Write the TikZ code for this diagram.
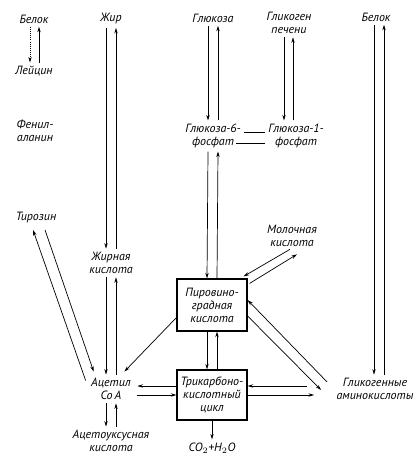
\documentclass[tikz,border=0pt]{standalone}
\usepackage{fontspec}
\setmainfont{PT Sans}
\usetikzlibrary{arrows.meta,calc}
\tikzset{lbl/.style={font=\fontsize{8.5}{9.3}\selectfont\itshape,align=center,inner sep=1pt,outer sep=1.5pt},box/.style={draw,line width=0.8pt,align=center,minimum width=1.75cm,inner sep=1pt,font=\fontsize{8.5}{9.3}\selectfont\itshape},arrow/.style={-{Stealth[length=4pt,width=2.4pt]},line width=0.5pt},line/.style={line width=0.5pt}}

\begin{document}
\begin{tikzpicture}[x=0.025cm,y=-0.025cm]
\useasboundingbox (0,0) rectangle (415,464);
% left column
\node[lbl] (belokl) at (34,19) {Белок};
\node[lbl] (leucin) at (34,71) {Лейцин};
\node[lbl] (phenyl) at (35,131) {Фенил-\\аланин};
\node[lbl] (tyrosin) at (36,218) {Тирозин};
% fat column
\node[lbl] (zhir) at (111,19) {Жир};
\node[lbl] (fatacid) at (111,263) {Жирная\\кислота};
\node[lbl] (acetyl) at (111,389) {Ацетил\\Co\,A};
\node[lbl] (acetoac) at (111,441) {Ацетоуксусная\\кислота};
% carbohydrates
\node[lbl] (glucose) at (213,18) {Глюкоза};
\node[lbl] (glycogen) at (289,23) {Гликоген\\печени};
\node[lbl] (g6p) at (213,136) {Глюкоза-6-\\фосфат};
\node[lbl] (g1p) at (296,136) {Глюкоза-1-\\фосфат};
\node[lbl] (lactic) at (292,236) {Молочная\\кислота};
\node[box,minimum height=1.3cm] (pyruv) at (212,305) {Пировино-\\градная\\кислота};
\node[box,minimum height=1.25cm] (tca) at (212,395) {Трикарбоно-\\кислотный\\цикл};
\node[lbl] (co2) at (212,448) {CO$_2$+H$_2$O};
% right column
\node[lbl] (belokr) at (376,17) {Белок};
\node[lbl] (glucaa) at (375,389) {Гликогенные\\аминокислоты};

\draw[arrow,densely dotted] ($(belokl.south)+(-4,0)$) -- ($(leucin.north)+(-4,0)$);
\draw[arrow] ($(leucin.north)+(5,0)$) -- ($(belokl.south)+(5,0)$);
\draw[arrow] ($(tyrosin.south)+(9,3)$) -- ($(acetyl.north west)+(6,-3)$);
\draw[arrow] ($(acetyl.north west)+(-2,6)$) -- ($(tyrosin.south)+(-3,3)$);

\draw[arrow] ($(zhir.south)+(-5,0)$) -- ($(fatacid.north)+(-5,0)$);
\draw[arrow] ($(fatacid.north)+(5,0)$) -- ($(zhir.south)+(5,0)$);
\draw[arrow] ($(fatacid.south)+(-5,0)$) -- ($(acetyl.north)+(-5,0)$);
\draw[arrow] ($(acetyl.north)+(5,0)$) -- ($(fatacid.south)+(5,0)$);
\draw[arrow] ($(acetyl.south)+(-5,0)$) -- ($(acetoac.north)+(-5,0)$);
\draw[arrow] ($(acetoac.north)+(5,0)$) -- ($(acetyl.south)+(5,0)$);

\draw[arrow] ($(glucose.south)+(-5,0)$) -- ($(g6p.north)+(-5,0)$);
\draw[arrow] ($(g6p.north)+(5,0)$) -- ($(glucose.south)+(5,0)$);
\draw[arrow] ($(glycogen.south)+(-5,0)$) -- ($(g1p.north)+(-12,0)$);
\draw[arrow] ($(g1p.north)+(-3,0)$) -- ($(glycogen.south)+(4,0)$);
\draw[line] ($(g6p.east)+(0,-4)$) -- ($(g1p.west)+(0,-4)$);
\draw[line] ($(g6p.east)+(-8,7)$) -- ($(g1p.west)+(0,7)$);
\draw[arrow] ($(g6p.south)+(-5,0)$) -- ($(pyruv.north)+(-5,0)$);
\draw[arrow] ($(pyruv.north)+(5,0)$) -- ($(g6p.south)+(5,0)$);

\draw[arrow] ($(lactic.south)+(-2,-1)$) -- ($(pyruv.north east)+(-4,-2)$);
\draw[arrow] ($(pyruv.north east)+(2,5)$) -- ($(lactic.south)+(5,4)$);
\draw[arrow] ($(pyruv.south)+(-5,0)$) -- ($(tca.north)+(-5,0)$);
\draw[arrow] ($(tca.north)+(5,0)$) -- ($(pyruv.south)+(5,0)$);
\draw[arrow] ($(pyruv.south west)+(0,-14)$) -- ($(acetyl.north east)+(-10,-3)$);
\draw[arrow] ($(tca.west)+(0,-9)$) -- ($(acetyl.east)+(3,-3)$);
\draw[arrow] ($(acetyl.east)+(3,6)$) -- (tca.west);
\draw[arrow] (tca.south) -- (co2.north);

\draw[arrow] ($(belokr.south)+(-2,0)$) -- ($(glucaa.north)+(-1,0)$);
\draw[arrow] ($(glucaa.north)+(9,0)$) -- ($(belokr.south)+(8,0)$);
\draw[arrow] ($(glucaa.west)+(-6,-7)$) -- ($(pyruv.east)+(0,-5)$);
\draw[arrow] ($(pyruv.east)+(0,11)$) -- ($(glucaa.west)+(-12,1)$);
\draw[arrow] ($(glucaa.west)+(-26,-3)$) -- ($(tca.east)+(0,-9)$);
\draw[arrow] (tca.east) -- ($(glucaa.west)+(-19,6)$);
\end{tikzpicture}
\end{document}
